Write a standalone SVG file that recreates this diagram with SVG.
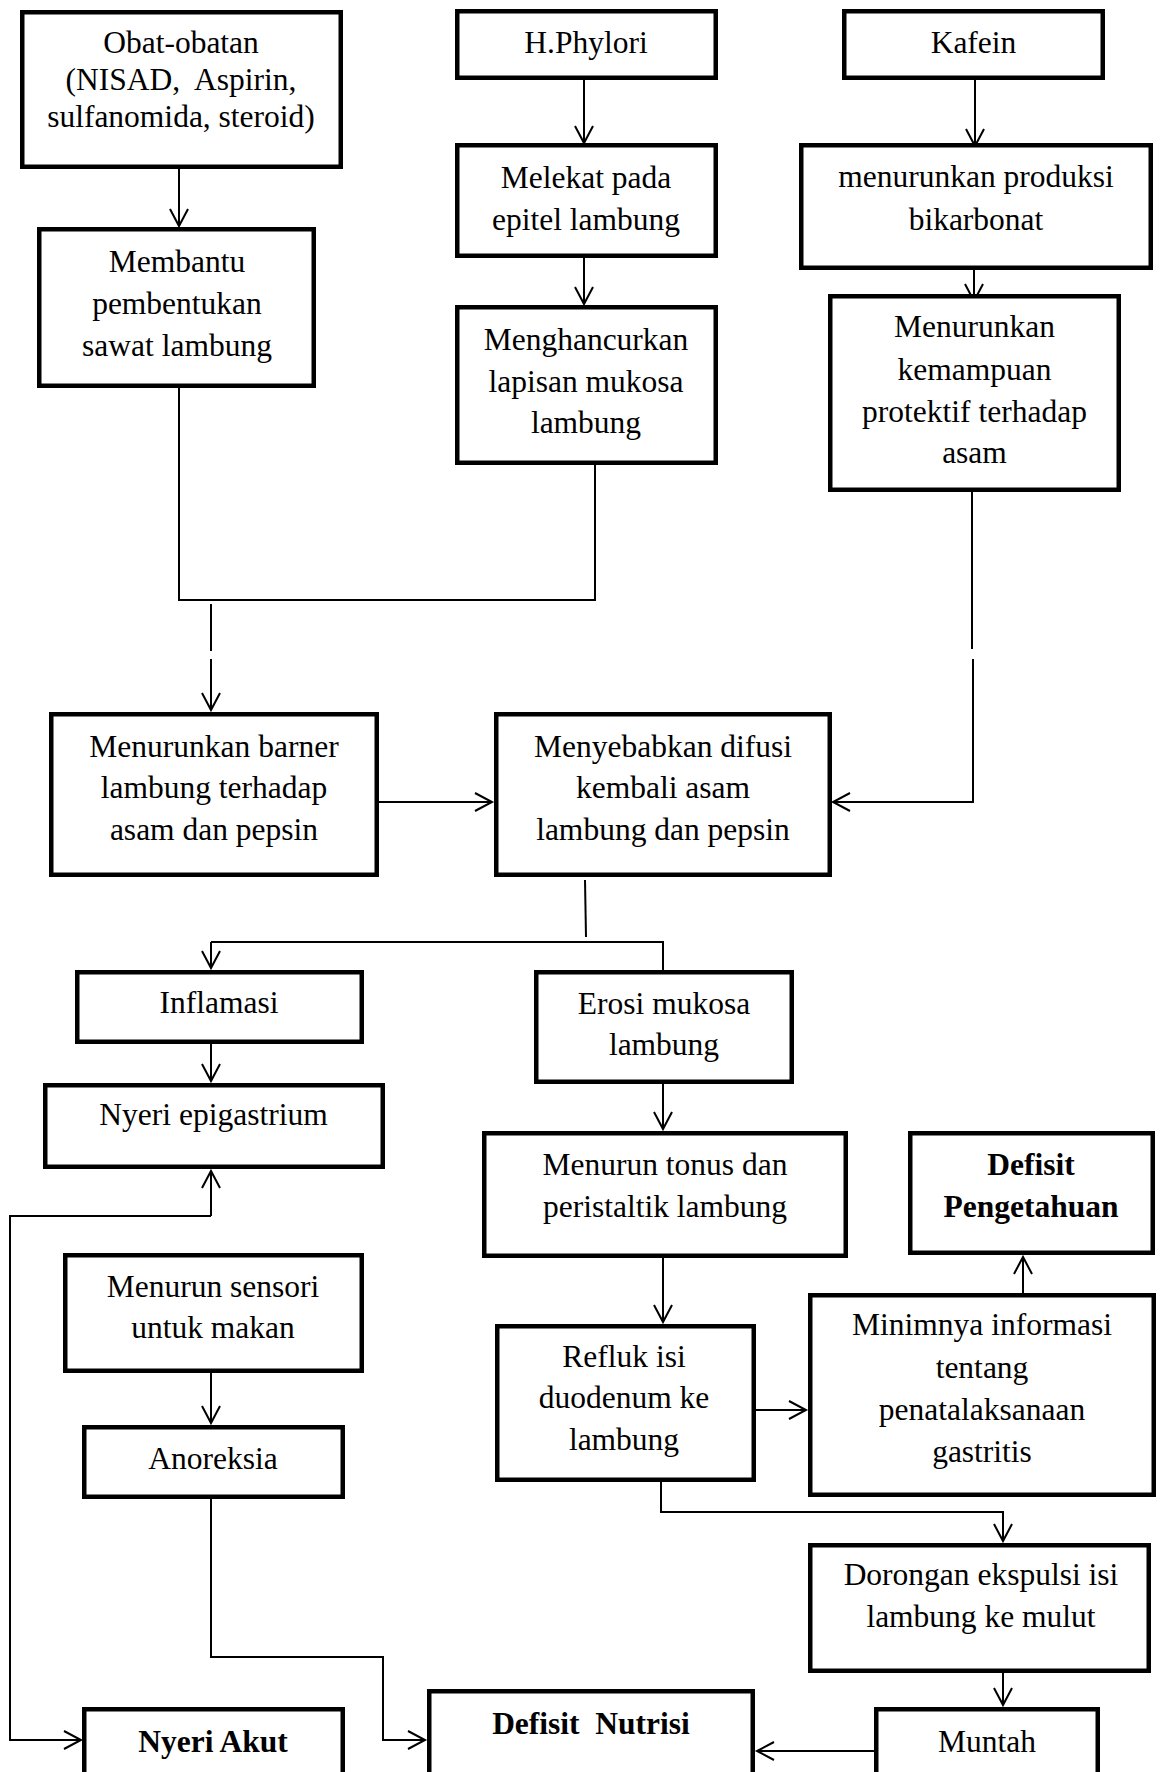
<svg xmlns="http://www.w3.org/2000/svg" width="1163" height="1772" viewBox="0 0 1163 1772">
<style>
.box{fill:#fff;stroke:#000;stroke-width:4.5}
.t{font-family:"Liberation Serif","Times New Roman",serif;font-size:31.5px;fill:#000;text-anchor:middle;white-space:pre}
.b{font-weight:bold}
.c{fill:none;stroke:#000;stroke-width:2}
.a{marker-end:url(#ah)}
</style>
<defs>
<marker id="ah" markerUnits="userSpaceOnUse" markerWidth="24" markerHeight="24" viewBox="0 0 24 24" refX="20" refY="12" orient="auto">
<path d="M3,3 L20,12 L3,21" fill="none" stroke="#000" stroke-width="2"/>
</marker>
</defs>
<rect width="1163" height="1772" fill="#fff"/>
<g id="connectors">
<path class="c a" d="M179,169 L179,226"/>
<path class="c a" d="M584,80 L584,143"/>
<path class="c a" d="M584,258 L584,304"/>
<path class="c a" d="M975,80 L975,146"/>
<path class="c a" d="M974,270 L974,301"/>
<path class="c" d="M179,388 L179,600 L595,600 L595,465"/>
<path class="c" d="M211,604 L211,651"/>
<path class="c a" d="M211,659 L211,710"/>
<path class="c" d="M972,492 L972,649"/>
<path class="c a" d="M973,659 L973,802 L833,802"/>
<path class="c a" d="M379,802 L492,802"/>
<path class="c" d="M585,880 L586,937"/>
<path class="c" d="M663,970 L663,942 L211,942"/>
<path class="c a" d="M211,942 L211,968"/>
<path class="c a" d="M211,1044 L211,1081"/>
<path class="c a" d="M211,1216 L211,1171"/>
<path class="c a" d="M211,1216 L10,1216 L10,1740 L81,1740"/>
<path class="c a" d="M211,1373 L211,1423"/>
<path class="c a" d="M211,1499 L211,1657 L383,1657 L383,1740 L425,1740"/>
<path class="c a" d="M663,1084 L663,1129"/>
<path class="c a" d="M663,1258 L663,1322"/>
<path class="c a" d="M756,1410 L806,1410"/>
<path class="c a" d="M1023,1293 L1023,1257"/>
<path class="c a" d="M661,1482 L661,1512 L1003,1512 L1003,1541"/>
<path class="c a" d="M1003,1673 L1003,1705"/>
<path class="c a" d="M874,1751 L757,1751"/>
</g>
<g id="obat"><rect class="box" x="22.25" y="12.25" width="318.5" height="154.5"/>
<text class="t" x="181" y="53">Obat-obatan</text><text class="t" x="181" y="90">(NISAD,  Aspirin,</text><text class="t" x="181" y="127">sulfanomida, steroid)</text></g>
<g id="membantu"><rect class="box" x="39.25" y="229.25" width="274.5" height="156.5"/>
<text class="t" x="177" y="272">Membantu</text><text class="t" x="177" y="314">pembentukan</text><text class="t" x="177" y="356">sawat lambung</text></g>
<g id="hphylori"><rect class="box" x="457.25" y="11.25" width="258.5" height="66.5"/>
<text class="t" x="586" y="53">H.Phylori</text></g>
<g id="melekat"><rect class="box" x="457.25" y="145.25" width="258.5" height="110.5"/>
<text class="t" x="586" y="188">Melekat pada</text><text class="t" x="586" y="230">epitel lambung</text></g>
<g id="menghancurkan"><rect class="box" x="457.25" y="307.25" width="258.5" height="155.5"/>
<text class="t" x="586" y="350">Menghancurkan</text><text class="t" x="586" y="392">lapisan mukosa</text><text class="t" x="586" y="433">lambung</text></g>
<g id="kafein"><rect class="box" x="844.25" y="11.25" width="258.5" height="66.5"/>
<text class="t" x="973.5" y="53">Kafein</text></g>
<g id="produksi"><rect class="box" x="801.25" y="145.25" width="349.5" height="122.5"/>
<text class="t" x="976" y="187">menurunkan produksi</text><text class="t" x="976" y="230">bikarbonat</text></g>
<g id="kemampuan"><rect class="box" x="830.25" y="296.25" width="288.5" height="193.5"/>
<text class="t" x="974.5" y="337">Menurunkan</text><text class="t" x="974.5" y="380">kemampuan</text><text class="t" x="974.5" y="422">protektif terhadap</text><text class="t" x="974.5" y="463">asam</text></g>
<g id="barner"><rect class="box" x="51.25" y="714.25" width="325.5" height="160.5"/>
<text class="t" x="214" y="757">Menurunkan barner</text><text class="t" x="214" y="798">lambung terhadap</text><text class="t" x="214" y="840">asam dan pepsin</text></g>
<g id="difusi"><rect class="box" x="496.25" y="714.25" width="333.5" height="160.5"/>
<text class="t" x="663" y="757">Menyebabkan difusi</text><text class="t" x="663" y="798">kembali asam</text><text class="t" x="663" y="840">lambung dan pepsin</text></g>
<g id="inflamasi"><rect class="box" x="77.25" y="972.25" width="284.5" height="69.5"/>
<text class="t" x="219" y="1013">Inflamasi</text></g>
<g id="epigastrium"><rect class="box" x="45.25" y="1085.25" width="337.5" height="81.5"/>
<text class="t" x="213.5" y="1125">Nyeri epigastrium</text></g>
<g id="sensori"><rect class="box" x="65.25" y="1255.25" width="296.5" height="115.5"/>
<text class="t" x="213" y="1297">Menurun sensori</text><text class="t" x="213" y="1338">untuk makan</text></g>
<g id="anoreksia"><rect class="box" x="84.25" y="1427.25" width="258.5" height="69.5"/>
<text class="t" x="213" y="1469">Anoreksia</text></g>
<g id="nyeriakut"><rect class="box" x="84.25" y="1709.25" width="258.5" height="90"/>
<text class="t b" x="213" y="1752">Nyeri Akut</text></g>
<g id="nutrisi"><rect class="box" x="429.25" y="1691.25" width="323.5" height="100"/>
<text class="t b" x="591" y="1734">Defisit  Nutrisi</text></g>
<g id="muntah"><rect class="box" x="876.25" y="1709.25" width="221.5" height="90"/>
<text class="t" x="987" y="1752">Muntah</text></g>
<g id="erosi"><rect class="box" x="536.25" y="972.25" width="255.5" height="109.5"/>
<text class="t" x="664" y="1014">Erosi mukosa</text><text class="t" x="664" y="1055">lambung</text></g>
<g id="tonus"><rect class="box" x="484.25" y="1133.25" width="361.5" height="122.5"/>
<text class="t" x="665" y="1175">Menurun tonus dan</text><text class="t" x="665" y="1217">peristaltik lambung</text></g>
<g id="refluk"><rect class="box" x="497.25" y="1326.25" width="256.5" height="153.5"/>
<text class="t" x="624" y="1367">Refluk isi</text><text class="t" x="624" y="1408">duodenum ke</text><text class="t" x="624" y="1450">lambung</text></g>
<g id="pengetahuan"><rect class="box" x="910.25" y="1133.25" width="242.5" height="119.5"/>
<text class="t b" x="1031" y="1175">Defisit</text><text class="t b" x="1031" y="1217">Pengetahuan</text></g>
<g id="minimnya"><rect class="box" x="810.25" y="1295.25" width="343.5" height="199.5"/>
<text class="t" x="982" y="1335">Minimnya informasi</text><text class="t" x="982" y="1378">tentang</text><text class="t" x="982" y="1420">penatalaksanaan</text><text class="t" x="982" y="1462">gastritis</text></g>
<g id="dorongan"><rect class="box" x="810.25" y="1545.25" width="338.5" height="125.5"/>
<text class="t" x="981" y="1585">Dorongan ekspulsi isi</text><text class="t" x="981" y="1627">lambung ke mulut</text></g>
</svg>
